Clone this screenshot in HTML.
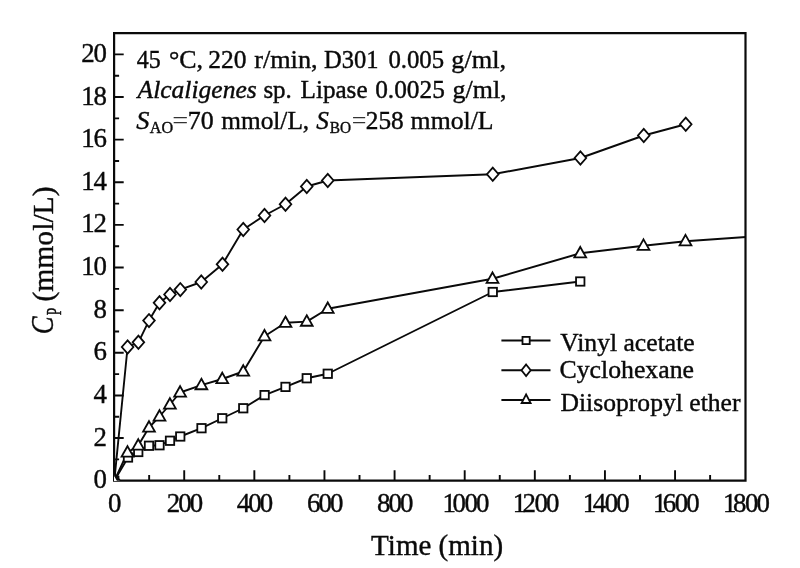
<!DOCTYPE html>
<html lang="en"><head><meta charset="utf-8"><title>Cp vs Time</title>
<style>html,body{margin:0;padding:0;background:#fff}body{width:800px;height:568px;overflow:hidden}svg{display:block}text{font-family:"Liberation Serif","Times New Roman",serif;fill:#0a0a0a;stroke:#0a0a0a;stroke-width:.4px}.i{font-style:italic}.eq{stroke:none;fill:#333}</style></head><body>
<svg width="800" height="568" viewBox="0 0 800 568">
<rect width="800" height="568" fill="#fff"/>
<g fill="none" stroke="#0a0a0a" stroke-width="2.2" stroke-linecap="square">
<path d="M114.1 480.7L114.1 33.1L745.5 33.1L745.5 480.7Z"/>
</g>
<g stroke="#0a0a0a" stroke-width="1.9" fill="none">
<path d="M149.16 480.7v-5.8M184.22 480.7v-10.5M219.28 480.7v-5.8M254.34 480.7v-10.5M289.40 480.7v-5.8M324.46 480.7v-10.5M359.52 480.7v-5.8M394.58 480.7v-10.5M429.64 480.7v-5.8M464.70 480.7v-10.5M499.76 480.7v-5.8M534.82 480.7v-10.5M569.88 480.7v-5.8M604.94 480.7v-10.5M640.00 480.7v-5.8M675.06 480.7v-10.5M710.12 480.7v-5.8M114.1 459.38h5.0M114.1 438.07h9.6M114.1 416.75h5.0M114.1 395.44h9.6M114.1 374.12h5.0M114.1 352.81h9.6M114.1 331.50h5.0M114.1 310.18h9.6M114.1 288.87h5.0M114.1 267.55h9.6M114.1 246.23h5.0M114.1 224.92h9.6M114.1 203.60h5.0M114.1 182.29h9.6M114.1 160.97h5.0M114.1 139.66h9.6M114.1 118.34h5.0M114.1 97.03h9.6M114.1 75.71h5.0M114.1 54.40h9.6"/>
</g>
<defs><clipPath id="plot"><rect x="114.1" y="33.1" width="631.4" height="447.59999999999997"/></clipPath></defs>
<g clip-path="url(#plot)">
<g fill="none" stroke="#0a0a0a" stroke-width="1.9" stroke-linejoin="round">
<polyline points="114.30,480.80 128.00,457.50 138.25,452.00 149.00,445.75 159.50,445.25 170.00,440.75 180.25,436.50 201.50,428.20 222.25,418.25 243.25,408.25 264.60,395.10 285.50,386.90 306.75,378.25 327.75,373.75 492.75,292.00 580.25,281.50"/>
<polyline points="114.30,480.80 127.60,347.00 138.40,342.30 149.00,320.60 159.50,302.80 170.00,294.50 180.30,289.60 201.25,282.00 222.50,264.30 243.25,229.50 264.50,215.50 285.50,204.25 306.75,186.50 327.75,180.50 492.75,174.25 580.40,158.00 643.75,135.50 685.75,124.25"/>
<polyline points="114.30,480.80 127.50,452.50 138.25,445.50 149.00,427.50 159.50,416.50 169.90,404.50 180.10,392.50 201.40,385.10 222.25,379.00 243.25,371.50 264.50,336.25 285.50,322.80 306.75,321.60 327.75,308.75 492.50,278.75 580.25,253.25 643.50,245.70 685.50,241.20 747.00,237.00"/>
</g>
<g fill="#fff" stroke="#0a0a0a" stroke-width="1.8" stroke-linejoin="miter">
<rect x="110.10" y="476.60" width="8.40" height="8.40"/>
<rect x="123.80" y="453.30" width="8.40" height="8.40"/>
<rect x="134.05" y="447.80" width="8.40" height="8.40"/>
<rect x="144.80" y="441.55" width="8.40" height="8.40"/>
<rect x="155.30" y="441.05" width="8.40" height="8.40"/>
<rect x="165.80" y="436.55" width="8.40" height="8.40"/>
<rect x="176.05" y="432.30" width="8.40" height="8.40"/>
<rect x="197.30" y="424.00" width="8.40" height="8.40"/>
<rect x="218.05" y="414.05" width="8.40" height="8.40"/>
<rect x="239.05" y="404.05" width="8.40" height="8.40"/>
<rect x="260.40" y="390.90" width="8.40" height="8.40"/>
<rect x="281.30" y="382.70" width="8.40" height="8.40"/>
<rect x="302.55" y="374.05" width="8.40" height="8.40"/>
<rect x="323.55" y="369.55" width="8.40" height="8.40"/>
<rect x="488.55" y="287.80" width="8.40" height="8.40"/>
<rect x="576.05" y="277.30" width="8.40" height="8.40"/>
<path d="M114.30 474.20L120.10 480.80L114.30 487.40L108.50 480.80Z"/>
<path d="M127.60 340.40L133.40 347.00L127.60 353.60L121.80 347.00Z"/>
<path d="M138.40 335.70L144.20 342.30L138.40 348.90L132.60 342.30Z"/>
<path d="M149.00 314.00L154.80 320.60L149.00 327.20L143.20 320.60Z"/>
<path d="M159.50 296.20L165.30 302.80L159.50 309.40L153.70 302.80Z"/>
<path d="M170.00 287.90L175.80 294.50L170.00 301.10L164.20 294.50Z"/>
<path d="M180.30 283.00L186.10 289.60L180.30 296.20L174.50 289.60Z"/>
<path d="M201.25 275.40L207.05 282.00L201.25 288.60L195.45 282.00Z"/>
<path d="M222.50 257.70L228.30 264.30L222.50 270.90L216.70 264.30Z"/>
<path d="M243.25 222.90L249.05 229.50L243.25 236.10L237.45 229.50Z"/>
<path d="M264.50 208.90L270.30 215.50L264.50 222.10L258.70 215.50Z"/>
<path d="M285.50 197.65L291.30 204.25L285.50 210.85L279.70 204.25Z"/>
<path d="M306.75 179.90L312.55 186.50L306.75 193.10L300.95 186.50Z"/>
<path d="M327.75 173.90L333.55 180.50L327.75 187.10L321.95 180.50Z"/>
<path d="M492.75 167.65L498.55 174.25L492.75 180.85L486.95 174.25Z"/>
<path d="M580.40 151.40L586.20 158.00L580.40 164.60L574.60 158.00Z"/>
<path d="M643.75 128.90L649.55 135.50L643.75 142.10L637.95 135.50Z"/>
<path d="M685.75 117.65L691.55 124.25L685.75 130.85L679.95 124.25Z"/>
<path d="M114.30 474.50L120.20 484.97L108.40 484.97Z"/>
<path d="M127.50 446.20L133.40 456.67L121.60 456.67Z"/>
<path d="M138.25 439.20L144.15 449.67L132.35 449.67Z"/>
<path d="M149.00 421.20L154.90 431.67L143.10 431.67Z"/>
<path d="M159.50 410.20L165.40 420.67L153.60 420.67Z"/>
<path d="M169.90 398.20L175.80 408.67L164.00 408.67Z"/>
<path d="M180.10 386.20L186.00 396.67L174.20 396.67Z"/>
<path d="M201.40 378.80L207.30 389.27L195.50 389.27Z"/>
<path d="M222.25 372.70L228.15 383.17L216.35 383.17Z"/>
<path d="M243.25 365.20L249.15 375.67L237.35 375.67Z"/>
<path d="M264.50 329.95L270.40 340.42L258.60 340.42Z"/>
<path d="M285.50 316.50L291.40 326.97L279.60 326.97Z"/>
<path d="M306.75 315.30L312.65 325.77L300.85 325.77Z"/>
<path d="M327.75 302.45L333.65 312.92L321.85 312.92Z"/>
<path d="M492.50 272.45L498.40 282.92L486.60 282.92Z"/>
<path d="M580.25 246.95L586.15 257.42L574.35 257.42Z"/>
<path d="M643.50 239.40L649.40 249.87L637.60 249.87Z"/>
<path d="M685.50 234.90L691.40 245.37L679.60 245.37Z"/>
</g>
</g>
<g fill="none" stroke="#0a0a0a" stroke-width="1.9">
<path d="M501.4 340.5H550.5"/>
<path d="M501.4 370.3H550.5"/>
<path d="M501.4 400.0H550.5"/>
</g>
<g fill="#fff" stroke="#0a0a0a" stroke-width="1.8" stroke-linejoin="miter">
<rect x="522.50" y="336.90" width="7.20" height="7.20"/>
<path d="M526.10 364.50L530.70 370.30L526.10 376.10L521.50 370.30Z"/>
<path d="M526.10 394.40L530.60 403.00L521.60 403.00Z"/>
</g>
<g font-size="28.0">
<text transform="translate(108.08 511.60) scale(0.96 1)" x="0.00">0</text>
<text transform="translate(166.65 511.60) scale(0.96 1)" x="0.00 12.03 24.06">200</text>
<text transform="translate(236.77 511.60) scale(0.96 1)" x="0.00 12.03 24.06">400</text>
<text transform="translate(306.89 511.60) scale(0.96 1)" x="0.00 12.03 24.06">600</text>
<text transform="translate(377.01 511.60) scale(0.96 1)" x="0.00 12.03 24.06">800</text>
<text transform="translate(441.36 511.60) scale(0.96 1)" x="1.25 11.51 24.06 36.09">1000</text>
<text transform="translate(511.47 511.60) scale(0.96 1)" x="1.25 11.51 24.06 36.09">1200</text>
<text transform="translate(581.60 511.60) scale(0.96 1)" x="1.25 11.51 24.06 36.09">1400</text>
<text transform="translate(651.72 511.60) scale(0.96 1)" x="1.25 11.51 24.06 36.09">1600</text>
<text transform="translate(721.84 511.60) scale(0.96 1)" x="1.25 11.51 24.06 36.09">1800</text>
<text transform="translate(93.50 488.20) scale(0.96 1)" x="0.00">0</text>
<text transform="translate(93.50 445.57) scale(0.96 1)" x="0.00">2</text>
<text transform="translate(93.50 402.94) scale(0.96 1)" x="0.00">4</text>
<text transform="translate(93.50 360.31) scale(0.96 1)" x="0.00">6</text>
<text transform="translate(93.50 317.68) scale(0.96 1)" x="0.00">8</text>
<text transform="translate(81.30 275.05) scale(0.96 1)" x="0.00 12.71">10</text>
<text transform="translate(81.30 232.42) scale(0.96 1)" x="0.00 12.71">12</text>
<text transform="translate(81.30 189.79) scale(0.96 1)" x="0.00 12.71">14</text>
<text transform="translate(81.30 147.16) scale(0.96 1)" x="0.00 12.71">16</text>
<text transform="translate(81.30 104.53) scale(0.96 1)" x="0.00 12.71">18</text>
<text transform="translate(81.30 61.90) scale(0.96 1)" x="0.00 12.71">20</text>
</g>
<g transform="translate(53.3 333.5) rotate(-90)">
<text transform="translate(-0.85 0.00) scale(0.8476 1)" font-size="31.5" class="i">C</text>
<text transform="translate(18.20 7.50) scale(0.6364 1)" font-size="21">P</text>
<text transform="translate(32.01 0.00) scale(0.9864 1)" font-size="30">(mmol/L)</text>
</g>
<g>
<text transform="translate(136.70 68.20) scale(0.9592 1)" font-size="25">45</text>
<text transform="translate(168.96 68.20) scale(1.0368 1)" font-size="25">°C,</text>
<text transform="translate(208.28 68.20) scale(1.0194 1)" font-size="25">220</text>
<text transform="translate(254.25 68.20) scale(1.0480 1)" font-size="25">r/min,</text>
<text transform="translate(324.10 68.20) scale(0.9805 1)" font-size="25">D301</text>
<text transform="translate(388.40 68.20) scale(0.9919 1)" font-size="25">0.005</text>
<text transform="translate(451.35 68.20) scale(1.0514 1)" font-size="25">g/ml,</text>
<text transform="translate(137.54 98.30) scale(1.0221 1)" font-size="25" class="i">Alcaligenes</text>
<text transform="translate(263.40 98.30) scale(0.9989 1)" font-size="25">sp.</text>
<text transform="translate(300.60 98.30) scale(1.0054 1)" font-size="25">Lipase</text>
<text transform="translate(375.20 98.30) scale(1.0139 1)" font-size="25">0.0025</text>
<text transform="translate(452.56 98.30) scale(1.0374 1)" font-size="25">g/ml,</text>
<text transform="translate(136.30 128.50) scale(1.0538 1)" font-size="25" class="i">S</text>
<text transform="translate(149.80 132.50) scale(0.9254 1)" font-size="17.5">AO</text>
<text transform="translate(172.17 128.50) scale(1.1333 1)" font-size="25" class="eq">=</text>
<text transform="translate(187.71 128.50) scale(1.0362 1)" font-size="25">70</text>
<text transform="translate(221.25 128.50) scale(1.0140 1)" font-size="25">mmol/L,</text>
<text transform="translate(316.20 128.50) scale(1.0077 1)" font-size="25" class="i">S</text>
<text transform="translate(329.80 132.50) scale(0.8787 1)" font-size="17.5">BO</text>
<text transform="translate(351.76 128.50) scale(1.0417 1)" font-size="25" class="eq">=</text>
<text transform="translate(365.79 128.50) scale(1.0139 1)" font-size="25">258</text>
<text transform="translate(410.60 128.50) scale(1.0305 1)" font-size="25">mmol/L</text>
<text transform="translate(560.20 350.90) scale(1.0102 1)" font-size="25.4">Vinyl acetate</text>
<text transform="translate(559.48 377.60) scale(1.0154 1)" font-size="25.4">Cyclohexane</text>
<text transform="translate(560.50 411.00) scale(1.0087 1)" font-size="25.4">Diisopropyl ether</text>
<text transform="translate(371.10 555.00) scale(0.9681 1)" font-size="30">Time (min)</text>
</g>
</svg></body></html>
